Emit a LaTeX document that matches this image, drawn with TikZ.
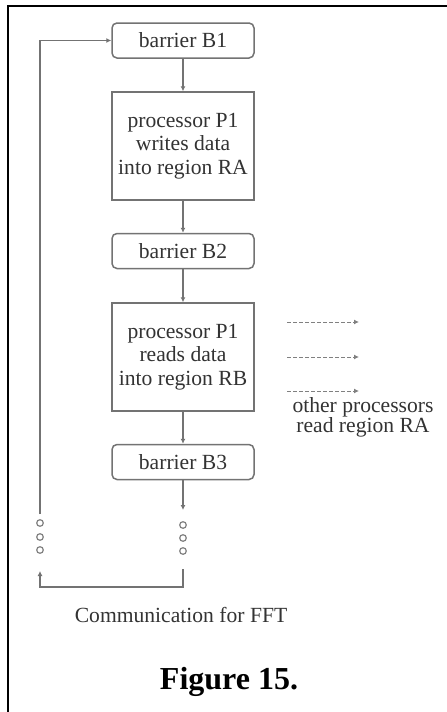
\documentclass[tikz,border=0pt]{standalone}
\usepackage{fontspec}
\setmainfont{Liberation Serif}
\usetikzlibrary{arrows.meta}
\begin{document}
\begin{tikzpicture}[x=1pt,y=-1pt,
  line/.style={draw=black!55, line width=1.5pt},
  arr/.style={line, -{Latex[length=5pt,width=5pt]}},
  dasharr/.style={draw=black!50, line width=1pt, dash pattern=on 4pt off 2pt, -{Latex[length=5pt,width=5pt]}},
  barrierbox/.style={line, rounded corners=5pt, minimum width=142pt, minimum height=35pt, inner sep=0pt, text=black!80, font=\fontsize{21.6}{23.5}\selectfont},
  procbox/.style={line, minimum width=142pt, minimum height=108pt, inner sep=0pt, text=black!80, align=center, font=\fontsize{21.6}{23.5}\selectfont},
  txt/.style={text=black!80, align=center, font=\fontsize{21.6}{20}\selectfont},
  dot/.style={draw=black!50, line width=1.2pt}
]
\useasboundingbox (0,0) rectangle (447,712);
\fill[white] (0,0) rectangle (447,712);
% frame
\draw[black, line width=2pt] (8,712) -- (8,5.5) -- (447,5.5);

% nodes
\node[barrierbox] (b1) at (183,40.5) {barrier B1};
\node[procbox] (pw) at (183,146) {processor P1\\writes data\\into region RA};
\node[barrierbox] (b2) at (183,251) {barrier B2};
\node[procbox] (pr) at (183,357) {processor P1\\reads data\\into region RB};
\node[barrierbox] (b3) at (183,462) {barrier B3};

\coordinate (r1) at (183,510);
\coordinate (l1) at (40,514);
\coordinate (lc) at (40,40.5);
\coordinate (r2) at (183,569);
\coordinate (rb) at (183,587);
\coordinate (lb) at (40,587);
\coordinate (l2) at (40,571);

\draw[arr] (b1) -- (pw);
\draw[arr] (pw) -- (b2);
\draw[arr] (b2) -- (pr);
\draw[arr] (pr) -- (b3);
\draw[arr] (b3) -- (r1);
\draw[arr] (l1) -- (lc) -- (b1.west);
\draw[arr] (r2) -- (rb) -- (lb) -- (l2);

% continuation circles
\foreach \y in {523,537,550} \draw[dot] (40,\y) circle (3.3pt);
\foreach \y in {525,538,551} \draw[dot] (183,\y) circle (3.3pt);

% dashed arrows
\coordinate (d1s) at (287,322); \coordinate (d1e) at (359,322);
\coordinate (d2s) at (287,357); \coordinate (d2e) at (359,357);
\coordinate (d3s) at (287,391); \coordinate (d3e) at (359,391);
\draw[dasharr] (d1s) -- (d1e);
\draw[dasharr] (d2s) -- (d2e);
\draw[dasharr] (d3s) -- (d3e);

\node[txt] (other) at (363,417) {other processors\\read region RA};
\node[txt] (cap) at (181,615) {Communication for FFT};
\node[font=\fontsize{32}{36}\selectfont\bfseries] (fig) at (229,682) {Figure 15.};
\end{tikzpicture}
\end{document}
